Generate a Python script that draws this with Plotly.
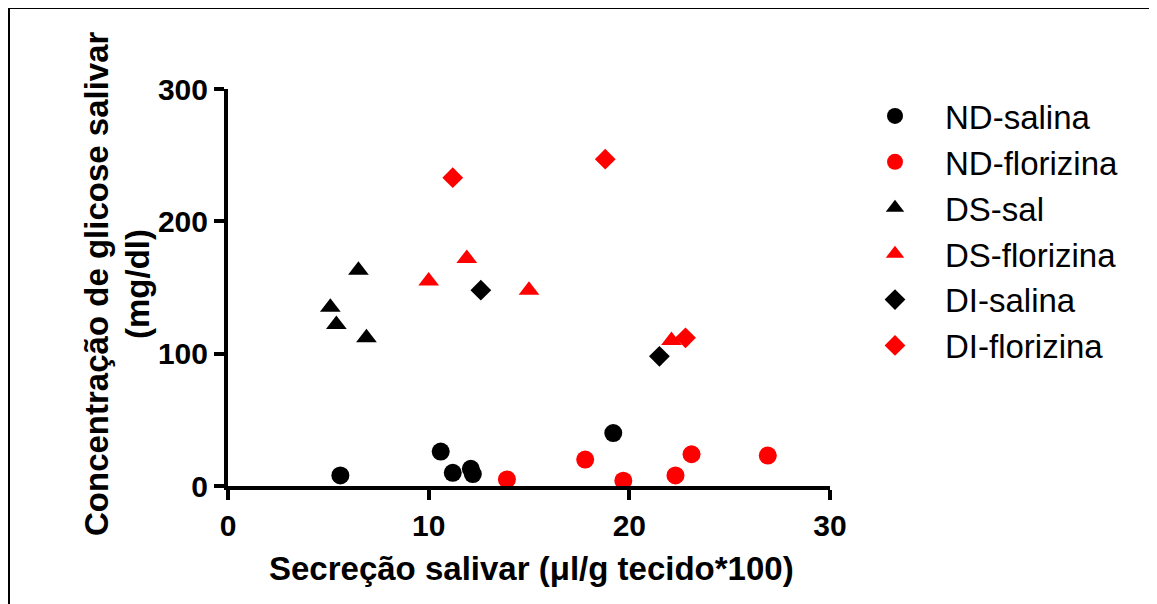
import plotly.graph_objects as go

series_names = ["ND-salina", "ND-florizina", "DS-sal", "DS-florizina", "DI-salina", "DI-florizina"]

nd_salina_x = [5.6, 10.6, 11.2, 12.1, 12.2, 19.2]
nd_salina_y = [8, 26, 10, 13, 9, 40]

nd_florizina_x = [13.9, 17.8, 19.7, 22.3, 23.1, 26.9]
nd_florizina_y = [5, 20, 4, 8, 24, 23]

ds_sal_x = [5.1, 5.4, 6.5, 6.9]
ds_sal_y = [135, 122, 163, 112]

ds_florizina_x = [10.0, 11.9, 15.0, 22.1]
ds_florizina_y = [155, 172, 148, 110]

di_salina_x = [12.6, 21.5]
di_salina_y = [148, 98]

di_florizina_x = [11.2, 18.8, 22.8]
di_florizina_y = [233, 247, 112]

x_ticks = [0, 10, 20, 30]
y_ticks = [0, 100, 200, 300]

FONT = "Arial, Liberation Sans, sans-serif"
BLACK = "#000000"
RED = "#FF0000"

series = [
    (series_names[0], nd_salina_x, nd_salina_y, "circle", BLACK, 18),
    (series_names[1], nd_florizina_x, nd_florizina_y, "circle", RED, 18),
    (series_names[2], ds_sal_x, ds_sal_y, "triangle-up", BLACK, 18),
    (series_names[3], ds_florizina_x, ds_florizina_y, "triangle-up", RED, 18),
    (series_names[4], di_salina_x, di_salina_y, "diamond", BLACK, 16),
    (series_names[5], di_florizina_x, di_florizina_y, "diamond", RED, 16),
]

fig = go.Figure()
for i, (name, xs, ys, sym, col, sz) in enumerate(series):
    fig.add_trace(go.Scatter(
        x=xs, y=ys, mode="markers", name=name, legendgroup=f"g{i}",
        marker=dict(symbol=sym, color=col, size=sz, line=dict(width=0)),
        cliponaxis=False,
    ))

# page body adds an 8px offset; work in screen coordinates
OFF = 8
W, H = 1157 - OFF, 604 - OFF
L, R, T, B = 220, 327, 81, 118
pw = W - L - R
ph = H - T - B

def px(xs):
    return (xs - OFF - L) / pw

def py(ys):
    return (H - B - (ys - OFF)) / ph

fig.update_layout(
    width=W, height=H,
    margin=dict(l=L, r=R, t=T, b=B, pad=0),
    paper_bgcolor="white", plot_bgcolor="white",
    font=dict(family=FONT, color="black"),
    showlegend=True,
    legend=dict(
        x=px(845), y=py(88), xanchor="left", yanchor="top",
        font=dict(family=FONT, size=33, color="black"),
        itemwidth=90, tracegroupgap=0, bgcolor="rgba(0,0,0,0)",
    ),
    xaxis=dict(
        range=[0, 30], tickvals=x_ticks, ticktext=[str(v) for v in x_ticks],
        showgrid=False, zeroline=False, showline=True, linecolor="black", linewidth=4,
        ticks="outside", ticklen=10, tickwidth=4, tickcolor="black",
        tickfont=dict(family=FONT, size=30, color="black", weight="bold"),
    ),
    yaxis=dict(
        range=[0, 300], tickvals=y_ticks, ticktext=[str(v) for v in y_ticks],
        showgrid=False, zeroline=False, showline=True, linecolor="black", linewidth=4,
        ticks="outside", ticklen=10, tickwidth=4, tickcolor="black",
        tickfont=dict(family=FONT, size=30, color="black", weight="bold"),
    ),
    annotations=[
        dict(text="Secreção salivar (μl/g tecido*100)", xref="paper", yref="paper",
             x=px(531), y=py(568), xanchor="center", yanchor="middle", showarrow=False,
             font=dict(family=FONT, size=33, color="black", weight="bold")),
        dict(text="Concentração de glicose salivar", xref="paper", yref="paper",
             x=px(96), y=py(284), xanchor="center", yanchor="middle", showarrow=False,
             textangle=-90,
             font=dict(family=FONT, size=33, color="black", weight="bold")),
        dict(text="(mg/dl)", xref="paper", yref="paper",
             x=px(137), y=py(284), xanchor="center", yanchor="middle", showarrow=False,
             textangle=-90,
             font=dict(family=FONT, size=33, color="black", weight="bold")),
    ],
    shapes=[
        dict(type="line", xref="paper", yref="paper", x0=px(8), x1=px(1157), y0=py(8), y1=py(8),
             line=dict(color="black", width=2)),
        dict(type="line", xref="paper", yref="paper", x0=px(9), x1=px(9), y0=py(8), y1=py(604),
             line=dict(color="black", width=2)),
    ],
)

fig.write_html("out.html")
